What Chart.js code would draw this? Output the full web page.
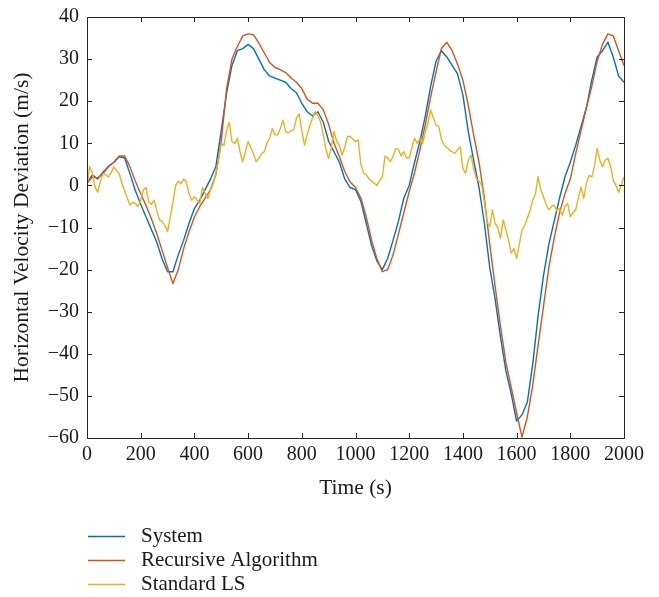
<!DOCTYPE html>
<html>
<head>
<meta charset="utf-8">
<script src="https://cdn.jsdelivr.net/npm/chart.js@4.4.1/dist/chart.umd.min.js"></script>
<style>
  html, body { margin: 0; padding: 0; background: #ffffff; }
  #wrap { width: 659px; height: 597px; position: relative; }
</style>
</head>
<body>
<div id="wrap"><canvas id="chart" width="659" height="597"></canvas></div>
<script>
// Sample grids (seconds)
const STEP_COARSE = 20;
const STEP_FINE = 10;
const TIME_COARSE = Array.from({ length: 101 }, (_, i) => i * STEP_COARSE);
const TIME_FINE = Array.from({ length: 201 }, (_, i) => i * STEP_FINE);

// Horizontal velocity deviation of the system (m/s), every 20 s
const SYSTEM = [
  0.5, 2.5, 1.5, 3.2, 4.5,
  5.5, 6.8, 6.5, 2.8, -1.2,
  -4.5, -7.5, -10.5, -13.5, -17.5,
  -20.5, -20.5, -16.5, -13, -9,
  -5.5, -3.5, -1, 1.5, 4.5,
  13, 22, 28.5, 32, 32.5,
  33.5, 32.5, 30, 27.5, 26,
  25.5, 25, 24.5, 23, 22,
  19.5, 17.5, 16.5, 17.5, 15,
  10.5, 8, 5.5, 1.5, -0.5,
  -1, -3.8, -9, -14.3, -18,
  -20, -17.3, -13, -8.5, -3,
  0, 5.5, 10.5, 16.5, 23.5,
  29.5, 32, 30.5, 28.5, 26.5,
  21.5, 12.8, 6, -0.5, -9,
  -19.5, -27, -36, -44, -49.5,
  -56, -54.5, -51.5, -42.5, -31,
  -21.5, -14, -8.5, -3, 2,
  5.5, 9.5, 14, 18.5, 25,
  30.5, 32, 34, 30.5, 26,
  24.5
];

// Recursive algorithm estimate (m/s), every 20 s
const RECURSIVE = [
  0.5, 2, 1.8, 2.8, 4.5,
  5.5, 7, 7, 4.4, 1,
  -2, -4.8, -8, -11.5, -15.5,
  -19.5, -23.3, -20, -15, -11,
  -7.5, -5, -3, -1, 2.5,
  10.5, 23, 30, 33, 35.5,
  36, 35.8, 33.8, 31.5, 29.2,
  28, 27.5, 26.8, 25.5, 24.5,
  23, 20.5, 19.5, 19.5, 18,
  14.5, 10, 6.8, 3.3, 0.8,
  -0.5, -3, -7.5, -13, -17.5,
  -20.5, -20, -16.5, -11.5, -6.5,
  -1.5, 3, 8.5, 14.5, 21,
  27, 32.5, 34, 32, 28.8,
  25, 19, 12, 5.5, -3,
  -14, -24, -33.5, -42, -48,
  -54, -59.8, -55, -47.5, -38,
  -28.8, -19.5, -12.5, -6.5, -2,
  1.5, 7.5, 13, 18.5, 23.5,
  29.5, 33.5, 36, 35.5, 32,
  28.5
];

// Standard least-squares estimate (m/s), every 10 s
const STANDARD_LS = [
  0, 4.5, 3, -0.4, -1.6, 1, 2.8, 2.5, 2, 3,
  4.4, 3.5, 2.8, 0.5, -1.2, -3, -4.7, -4, -4.3, -5,
  -3.5, -1, -0.5, -4, -4.5, -3.5, -6, -8.2, -8.6, -9.5,
  -11, -7.5, -4, 0, 1, 0.4, 1.5, 0.8, -2, -3.5,
  -2.7, -3.5, -4.3, -0.4, -2, -3.1, -1, 0.4, 3, 6,
  10, 9.5, 13, 15, 10.4, 10, 11.2, 8, 5.6, 8,
  10.4, 9, 7.5, 5.6, 6.5, 7.5, 8, 10, 11.2, 13.5,
  12, 12, 13.5, 15.5, 12.8, 12.5, 13, 13.2, 16, 17,
  13, 9.6, 12, 14.3, 16, 17.5, 16.5, 15.1, 12, 8.5,
  6.4, 9, 12.8, 10.5, 9.5, 7.2, 9, 11.6, 11.6, 11,
  10.4, 10.8, 5, 3, 2.5, 1.6, 1, 0.5, 0, 1.2,
  2, 7, 6.5, 5.6, 7, 8.8, 8.5, 7, 8, 6.5,
  6.5, 9, 11.2, 10, 11.2, 10, 12.8, 15, 17.9, 16,
  14.3, 14, 11, 9.6, 9, 8.4, 8, 7.6, 8.5, 9.2,
  4, 2.9, 6, 7.2, 4, 1.6, 1, 0, -4, -8.6,
  -9.8, -5.8, -9, -10, -12.6, -8.2, -10.5, -13, -16.1, -15,
  -17.3, -14, -10.6, -9.5, -7.8, -6, -3.5, -2, 2, -1,
  -2.7, -4.5, -5.8, -5, -4.7, -6, -5.5, -7.1, -5, -4.3,
  -7.4, -6.5, -5.8, -3, -0.4, -3.1, 0.5, 2.4, 2, 4.5,
  8.8, 6, 4.4, 6, 6.4, 4.5, 1.2, 0, -1.6, 0,
  2
];

const SERIES_LABELS = ['System', 'Recursive Algorithm', 'Standard LS'];
const SERIES_COLORS = ['#0072BD', '#D95319', '#EDB120'];

const X_MIN = 0, X_MAX = 2000, X_STEP = 200;
const Y_MIN = -60, Y_MAX = 40, Y_STEP = 10;

const FONT_FAMILY = "'Liberation Serif', 'DejaVu Serif', serif";
const AXIS_COLOR = '#262626';
const TEXT_COLOR = '#1a1a1a';

const toPoints = (xs, ys) => xs.map((x, i) => ({ x, y: ys[i] }));

// Box frame with inward ticks on all four sides
const framePlugin = {
  id: 'frame',
  afterDraw(chart) {
    const { ctx, chartArea: a, scales } = chart;
    const len = 5;
    ctx.save();
    ctx.strokeStyle = AXIS_COLOR;
    ctx.lineWidth = 1;
    ctx.beginPath();
    scales.x.ticks.forEach(t => {
      const px = Math.round(scales.x.getPixelForValue(t.value)) + 0.5;
      ctx.moveTo(px, a.bottom); ctx.lineTo(px, a.bottom - len);
      ctx.moveTo(px, a.top); ctx.lineTo(px, a.top + len);
    });
    scales.y.ticks.forEach(t => {
      const py = Math.round(scales.y.getPixelForValue(t.value)) + 0.5;
      ctx.moveTo(a.left, py); ctx.lineTo(a.left + len, py);
      ctx.moveTo(a.right, py); ctx.lineTo(a.right - len, py);
    });
    ctx.stroke();
    ctx.strokeRect(Math.round(a.left) + 0.5, Math.round(a.top) + 0.5,
                   Math.round(a.right - a.left), Math.round(a.bottom - a.top));
    ctx.restore();
  }
};

// Stacked legend under the axes
const legendPlugin = {
  id: 'stackedLegend',
  afterDraw(chart, args, opts) {
    const { ctx } = chart;
    ctx.save();
    ctx.font = `${opts.fontSize}px ${FONT_FAMILY}`;
    ctx.textBaseline = 'middle';
    ctx.textAlign = 'left';
    chart.data.datasets.forEach((ds, i) => {
      const y = opts.top + i * opts.rowGap;
      ctx.strokeStyle = ds.borderColor;
      ctx.lineWidth = 1.3;
      ctx.beginPath();
      ctx.moveTo(opts.lineStart, y + 0.5);
      ctx.lineTo(opts.lineEnd, y + 0.5);
      ctx.stroke();
      ctx.fillStyle = TEXT_COLOR;
      ctx.fillText(ds.label, opts.textStart, y);
    });
    ctx.restore();
  }
};

const minusFmt = v => (v < 0 ? '\u2212' + Math.abs(v) : String(v));

new Chart(document.getElementById('chart'), {
  type: 'line',
  data: {
    datasets: [
      { label: SERIES_LABELS[0], data: toPoints(TIME_COARSE, SYSTEM), borderColor: SERIES_COLORS[0], order: 3 },
      { label: SERIES_LABELS[1], data: toPoints(TIME_COARSE, RECURSIVE), borderColor: SERIES_COLORS[1], order: 2 },
      { label: SERIES_LABELS[2], data: toPoints(TIME_FINE, STANDARD_LS), borderColor: SERIES_COLORS[2], order: 1 }
    ]
  },
  options: {
    responsive: false,
    animation: false,
    devicePixelRatio: 1,
    layout: { padding: { left: 0, right: 35, top: 17, bottom: 93 } },
    elements: {
      point: { radius: 0, hoverRadius: 0 },
      line: { borderWidth: 1.4, tension: 0, fill: false, borderJoinStyle: 'round' }
    },
    scales: {
      x: {
        type: 'linear',
        min: X_MIN, max: X_MAX,
        border: { display: false },
        grid: { display: false, drawTicks: false },
        ticks: {
          stepSize: X_STEP,
          autoSkip: false,
          maxRotation: 0,
          padding: 5,
          color: TEXT_COLOR,
          font: { family: FONT_FAMILY, size: 20 },
          callback: v => minusFmt(v)
        },
        title: {
          display: true,
          text: 'Time (s)',
          color: TEXT_COLOR,
          font: { family: FONT_FAMILY, size: 21.5 },
          padding: { top: 0, bottom: 3 }
        },
        afterFit(s) { s.height = 66; s.paddingLeft = 0; s.paddingRight = 0; }
      },
      y: {
        type: 'linear',
        min: Y_MIN, max: Y_MAX,
        border: { display: false },
        grid: { display: false, drawTicks: false },
        ticks: {
          stepSize: Y_STEP,
          autoSkip: false,
          padding: 8,
          color: TEXT_COLOR,
          font: { family: FONT_FAMILY, size: 20 },
          callback: v => minusFmt(v)
        },
        title: {
          display: true,
          text: 'Horizontal Velocity Deviation (m/s)',
          color: TEXT_COLOR,
          font: { family: FONT_FAMILY, size: 21.5 },
          padding: { top: 9, bottom: 0 }
        },
        afterFit(s) { s.width = 87; s.paddingTop = 0; s.paddingBottom = 0; }
      }
    },
    plugins: {
      legend: { display: false },
      tooltip: { enabled: false },
      stackedLegend: { top: 536, rowGap: 24, lineStart: 88, lineEnd: 125, textStart: 141, fontSize: 21 }
    }
  },
  plugins: [framePlugin, legendPlugin]
});
</script>
</body>
</html>
